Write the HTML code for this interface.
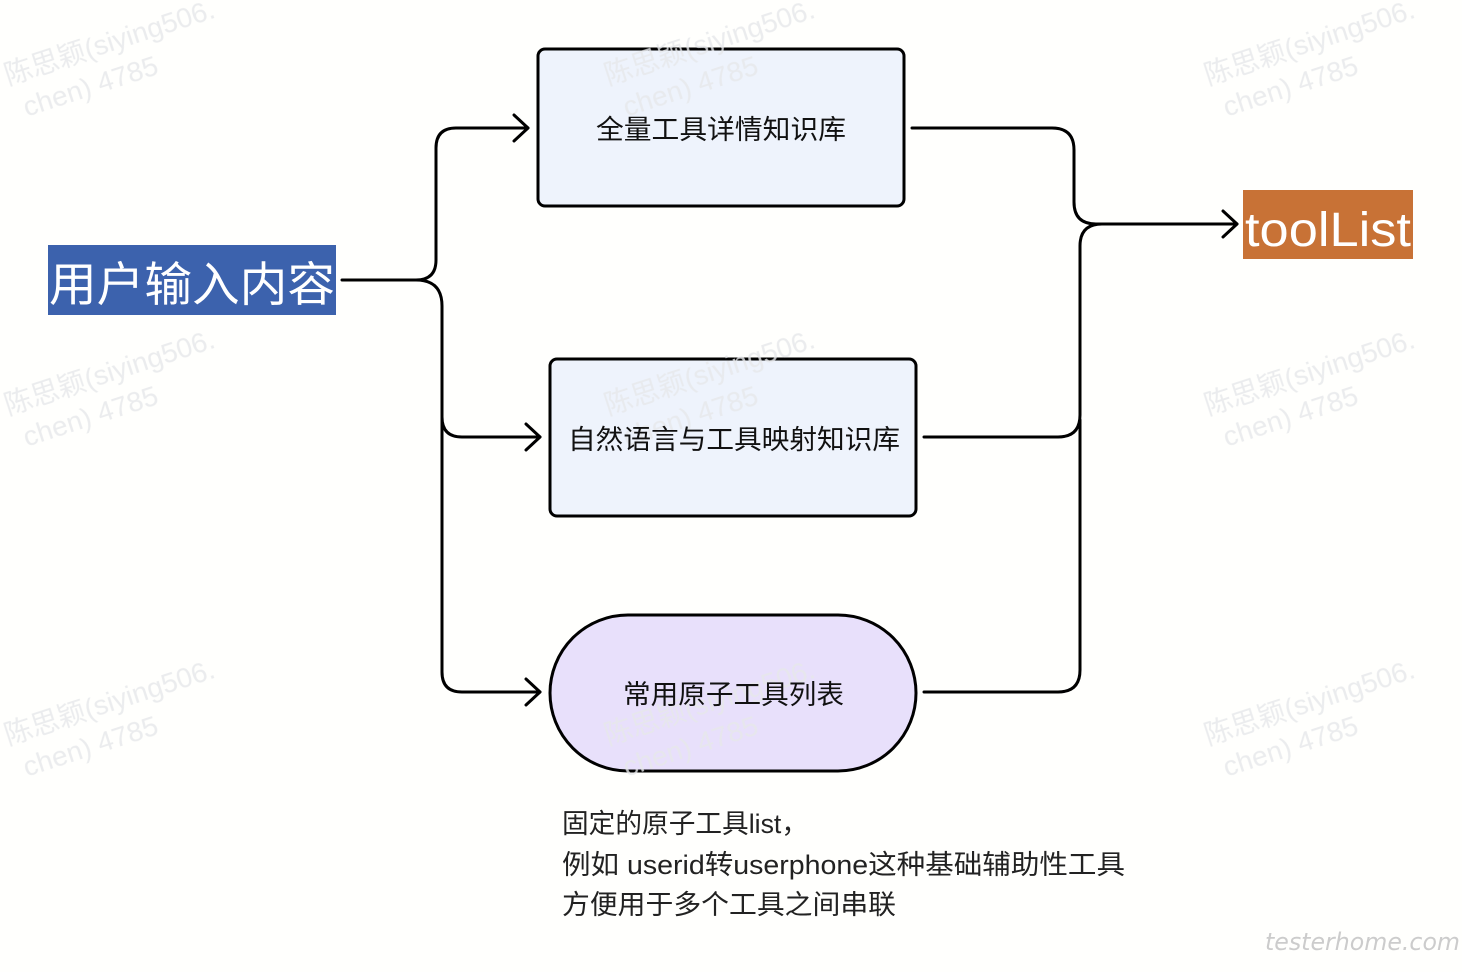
<!DOCTYPE html>
<html><head><meta charset="utf-8"><style>
html,body{margin:0;padding:0;background:#fffffd;}
svg{display:block}
.cjk{font-family:"Liberation Sans","Noto Sans CJK SC",sans-serif;}
.wm{font-family:"Liberation Sans","Noto Sans CJK SC",sans-serif;font-size:28px;fill:#e6e8ea;opacity:0.8}
</style></head><body>
<svg width="1462" height="972" viewBox="0 0 1462 972" xmlns="http://www.w3.org/2000/svg">
<rect width="1462" height="972" fill="#fffffd"/>
<!-- boxes -->
<rect x="538" y="49" width="366" height="157" rx="7" fill="#eef3fc" stroke="#000" stroke-width="3"/>
<rect x="550" y="359" width="366" height="157" rx="7" fill="#eef3fc" stroke="#000" stroke-width="3"/>
<rect x="550" y="615" width="366" height="156" rx="78" fill="#e8e0fb" stroke="#000" stroke-width="3"/>
<!-- watermarks -->
<g class="wm">
<g transform="translate(8,85) rotate(-18)"><text x="0" y="0">陈思颖(siying506.</text><text x="8" y="36">chen) 4785</text></g>
<g transform="translate(608,85) rotate(-18)"><text x="0" y="0">陈思颖(siying506.</text><text x="8" y="36">chen) 4785</text></g>
<g transform="translate(1208,85) rotate(-18)"><text x="0" y="0">陈思颖(siying506.</text><text x="8" y="36">chen) 4785</text></g>
<g transform="translate(8,415) rotate(-18)"><text x="0" y="0">陈思颖(siying506.</text><text x="8" y="36">chen) 4785</text></g>
<g transform="translate(608,415) rotate(-18)"><text x="0" y="0">陈思颖(siying506.</text><text x="8" y="36">chen) 4785</text></g>
<g transform="translate(1208,415) rotate(-18)"><text x="0" y="0">陈思颖(siying506.</text><text x="8" y="36">chen) 4785</text></g>
<g transform="translate(8,745) rotate(-18)"><text x="0" y="0">陈思颖(siying506.</text><text x="8" y="36">chen) 4785</text></g>
<g transform="translate(608,745) rotate(-18)"><text x="0" y="0">陈思颖(siying506.</text><text x="8" y="36">chen) 4785</text></g>
<g transform="translate(1208,745) rotate(-18)"><text x="0" y="0">陈思颖(siying506.</text><text x="8" y="36">chen) 4785</text></g>
</g>
<text class="cjk" x="596" y="139" font-size="27" textLength="250" lengthAdjust="spacingAndGlyphs" fill="#111">全量工具详情知识库</text>
<text class="cjk" x="568" y="449" font-size="27" textLength="332" lengthAdjust="spacingAndGlyphs" fill="#111">自然语言与工具映射知识库</text>
<text class="cjk" x="623" y="704" font-size="27" textLength="221" lengthAdjust="spacingAndGlyphs" fill="#111">常用原子工具列表</text>
<!-- input label -->
<rect x="48" y="245" width="288" height="70" fill="#3c62ad"/>
<text class="cjk" x="49" y="301" font-size="47" textLength="286" lengthAdjust="spacingAndGlyphs" fill="#fff">用户输入内容</text>
<!-- toolList -->
<rect x="1243" y="190" width="170" height="69" fill="#c87236"/>
<text x="1245" y="246" font-family="Liberation Sans,sans-serif" font-size="48" textLength="166" lengthAdjust="spacingAndGlyphs" fill="#fff">toolList</text>
<!-- connectors -->
<g fill="none" stroke="#000" stroke-width="3" stroke-linecap="round" stroke-linejoin="round">
<path d="M342 280 H416 Q436 280 436 260 V148 Q436 128 456 128 H528"/>
<path d="M514 115 L528 128 L514 141"/>
<path d="M416 280 Q442 280 442 306 V417 Q442 437 462 437 H540"/>
<path d="M526 424 L540 437 L526 450"/>
<path d="M442 410 V672 Q442 692 462 692 H540"/>
<path d="M526 679 L540 692 L526 705"/>
<path d="M912 128 H1052 Q1074 128 1074 150 V202 Q1074 224 1096 224 H1237"/>
<path d="M1223 211 L1237 224 L1223 237"/>
<path d="M924 437 H1058 Q1080 437 1080 415 V246 Q1080 224 1102 224"/>
<path d="M924 692 H1058 Q1080 692 1080 670 V420"/>
</g>
<!-- note -->
<g class="cjk" font-size="27" fill="#222">
<text x="562" y="833" textLength="246" lengthAdjust="spacingAndGlyphs">固定的原子工具list，</text>
<text x="562" y="874" textLength="563" lengthAdjust="spacingAndGlyphs">例如 userid转userphone这种基础辅助性工具</text>
<text x="562" y="914" textLength="334" lengthAdjust="spacingAndGlyphs">方便用于多个工具之间串联</text>
</g>
<text x="1265" y="950" font-family="DejaVu Sans,sans-serif" font-size="24" fill="#cccccc" font-style="italic" textLength="195" lengthAdjust="spacingAndGlyphs">testerhome.com</text>
</svg>
</body></html>
